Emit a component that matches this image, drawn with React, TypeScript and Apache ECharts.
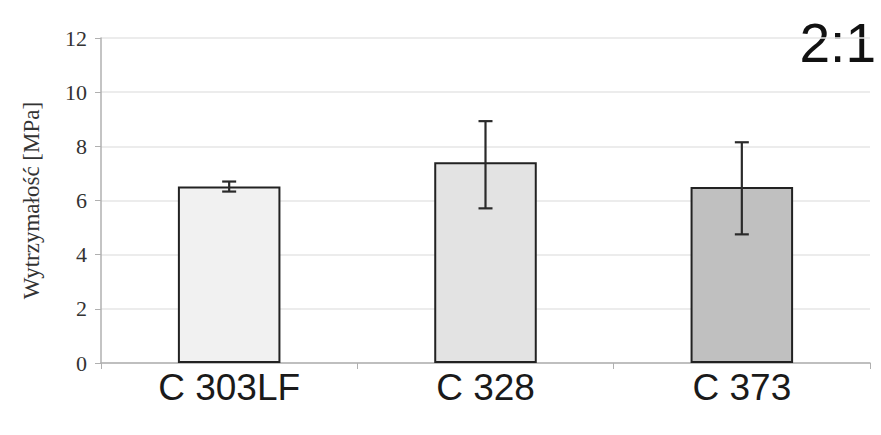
import React, { useEffect, useRef } from "react";
import * as echarts from "echarts";

const categories = ["C 303LF", "C 328", "C 373"];
const values = [6.52, 7.41, 6.5];
const errLow = [6.33, 5.71, 4.75];
const errHigh = [6.7, 8.93, 8.15];
const barColors = ["#f1f1f1", "#e3e3e3", "#c0c0c0"];
const yTicks = { min: 0, max: 12, interval: 2 };

export default function App() {
  const ref = useRef<HTMLDivElement>(null);
  useEffect(() => {
    const chart = echarts.init(ref.current!, null, { renderer: "svg" });
    chart.setOption({
      animation: false,
      backgroundColor: "#ffffff",
      grid: { left: 101, right: 11, top: 38, bottom: 72 },
      xAxis: {
        type: "category",
        data: categories,
        axisLine: { lineStyle: { color: "#b0b0b0", width: 1.5 } },
        axisTick: { show: true, length: 6, lineStyle: { color: "#b0b0b0" } },
        axisLabel: {
          fontFamily: "Liberation Sans, Arial, sans-serif",
          fontSize: 37,
          color: "#1a1a1a",
          margin: 6,
        },
      },
      yAxis: {
        type: "value",
        min: yTicks.min,
        max: yTicks.max,
        interval: yTicks.interval,
        name: "Wytrzymałość [MPa]",
        nameLocation: "middle",
        nameGap: 58,
        nameTextStyle: {
          fontFamily: "Liberation Serif, Times New Roman, serif",
          fontSize: 23,
          color: "#333",
        },
        axisLine: { show: true, lineStyle: { color: "#b0b0b0", width: 1.5 } },
        axisTick: { show: true, length: 6, lineStyle: { color: "#b0b0b0" } },
        axisLabel: {
          fontFamily: "Liberation Serif, Times New Roman, serif",
          fontSize: 22,
          color: "#333",
          margin: 14,
        },
        splitLine: { show: true, lineStyle: { color: "#e6e6e6", width: 1.5 } },
      },
      series: [
        {
          type: "bar",
          barWidth: "40%",
          data: values.map((v, i) => ({
            value: v,
            itemStyle: { color: barColors[i], borderColor: "#222", borderWidth: 2 },
          })),
        },
        {
          type: "custom",
          data: categories.map((_, i) => [i, errLow[i], errHigh[i]]),
          renderItem: (params: any, api: any) => {
            const idx = api.value(0);
            const lo = api.coord([idx, api.value(1)]);
            const hi = api.coord([idx, api.value(2)]);
            const hw = 7;
            const style = { stroke: "#2a2a2a", lineWidth: 2.2 };
            return {
              type: "group",
              children: [
                { type: "line", shape: { x1: hi[0], y1: hi[1], x2: lo[0], y2: lo[1] }, style },
                { type: "line", shape: { x1: hi[0] - hw, y1: hi[1], x2: hi[0] + hw, y2: hi[1] }, style },
                { type: "line", shape: { x1: lo[0] - hw, y1: lo[1], x2: lo[0] + hw, y2: lo[1] }, style },
              ],
            };
          },
          z: 5,
        },
      ],
      graphic: [
        {
          type: "text",
          x: 876,
          y: 43,
          style: {
            text: "2:1",
            fontFamily: "Liberation Sans, Arial, sans-serif",
            fontSize: 55,
            fill: "#111",
            textAlign: "right",
            textVerticalAlign: "middle",
          },
        },
      ],
    });
    return () => chart.dispose();
  }, []);
  return (
    <div
      ref={ref}
      style={{ position: "fixed", left: 0, top: 0, width: 881, height: 435 }}
    />
  );
}
